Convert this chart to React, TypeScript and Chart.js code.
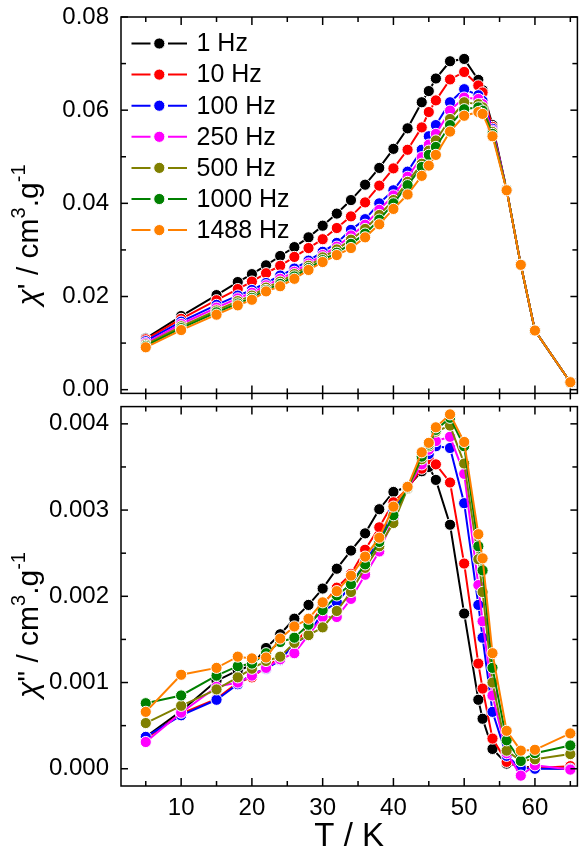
import React, { useEffect, useRef } from 'react';
import { Chart, registerables } from 'chart.js';

Chart.register(...registerables);

// ---------------- data ----------------
const temperatures = [5, 10, 15, 18, 20, 22, 24, 26, 28, 30, 32, 34, 36, 38, 40, 42, 44, 45, 46, 48, 50, 52, 52.6, 54, 56, 58, 60, 65];

const seriesLabels = ['1 Hz', '10 Hz', '100 Hz', '250 Hz', '500 Hz', '1000 Hz', '1488 Hz'];
const seriesColors = ['#000000', '#ff0000', '#0000ff', '#ff00ff', '#808000', '#008000', '#ff8000'];

// chi' (cm3/g)
const chiP_1Hz = [0.0110, 0.0158, 0.0203, 0.0231, 0.0248, 0.0267, 0.0287, 0.0306, 0.0327, 0.0352, 0.0378, 0.0407, 0.0440, 0.0476, 0.0517, 0.0561, 0.0617, 0.0641, 0.0668, 0.0705, 0.0710, 0.0665, 0.0643, 0.0568, 0.0429, 0.0268, 0.0127, 0.0016];
const chiP_10Hz = [0.0108, 0.0152, 0.0192, 0.0216, 0.0232, 0.0250, 0.0266, 0.0285, 0.0304, 0.0323, 0.0347, 0.0372, 0.0402, 0.0438, 0.0475, 0.0515, 0.0563, 0.0596, 0.0621, 0.0666, 0.0682, 0.0653, 0.0638, 0.0564, 0.0429, 0.0268, 0.0127, 0.0016];
const chiP_100Hz = [0.0104, 0.0146, 0.0182, 0.0202, 0.0214, 0.0229, 0.0245, 0.0260, 0.0277, 0.0296, 0.0315, 0.0343, 0.0366, 0.0400, 0.0428, 0.0468, 0.0515, 0.0544, 0.0568, 0.0617, 0.0645, 0.0632, 0.0620, 0.0560, 0.0429, 0.0268, 0.0127, 0.0016];
const chiP_250Hz = [0.0100, 0.0141, 0.0176, 0.0196, 0.0208, 0.0224, 0.0238, 0.0253, 0.0271, 0.0289, 0.0307, 0.0331, 0.0354, 0.0386, 0.0417, 0.0457, 0.0499, 0.0526, 0.0549, 0.0599, 0.0627, 0.0624, 0.0613, 0.0556, 0.0429, 0.0268, 0.0127, 0.0016];
const chiP_500Hz = [0.0097, 0.0136, 0.0170, 0.0190, 0.0202, 0.0219, 0.0232, 0.0248, 0.0266, 0.0284, 0.0301, 0.0322, 0.0345, 0.0375, 0.0407, 0.0446, 0.0485, 0.0513, 0.0535, 0.0581, 0.0617, 0.0613, 0.0606, 0.0553, 0.0429, 0.0268, 0.0127, 0.0016];
const chiP_1000Hz = [0.0094, 0.0132, 0.0166, 0.0185, 0.0197, 0.0214, 0.0227, 0.0243, 0.0261, 0.0278, 0.0294, 0.0313, 0.0335, 0.0365, 0.0400, 0.0439, 0.0478, 0.0504, 0.0521, 0.0568, 0.0602, 0.0606, 0.0599, 0.0549, 0.0429, 0.0268, 0.0127, 0.0016];
const chiP_1488Hz = [0.0091, 0.0128, 0.0161, 0.0181, 0.0193, 0.0211, 0.0222, 0.0238, 0.0257, 0.0274, 0.0289, 0.0304, 0.0327, 0.0355, 0.0388, 0.0419, 0.0459, 0.0481, 0.0504, 0.0554, 0.0588, 0.0596, 0.0592, 0.0544, 0.0428, 0.0268, 0.0127, 0.0016];

// chi'' (cm3/g)
const chiPP_1Hz = [0.00037, 0.00067, 0.00102, 0.00114, 0.00120, 0.00140, 0.00156, 0.00174, 0.00190, 0.00209, 0.00232, 0.00253, 0.00273, 0.00301, 0.00321, 0.00327, 0.00345, 0.00350, 0.00335, 0.00283, 0.00180, 0.00080, 0.00058, 0.00023, 0.00006, 0.00003, 0.00001, 0.00000];
const chiPP_10Hz = [0.00035, 0.00064, 0.00081, 0.00100, 0.00106, 0.00118, 0.00129, 0.00145, 0.00163, 0.00190, 0.00210, 0.00226, 0.00254, 0.00280, 0.00309, 0.00325, 0.00348, 0.00359, 0.00353, 0.00332, 0.00238, 0.00122, 0.00093, 0.00035, 0.00008, 0.00002, 0.00001, 0.00003];
const chiPP_100Hz = [0.00037, 0.00062, 0.00080, 0.00098, 0.00110, 0.00116, 0.00126, 0.00145, 0.00155, 0.00182, 0.00193, 0.00212, 0.00240, 0.00265, 0.00300, 0.00325, 0.00355, 0.00365, 0.00374, 0.00372, 0.00308, 0.00190, 0.00152, 0.00066, 0.00015, 0.00001, 0.00000, 0.00000];
const chiPP_250Hz = [0.00031, 0.00065, 0.00095, 0.00100, 0.00108, 0.00117, 0.00127, 0.00134, 0.00155, 0.00176, 0.00176, 0.00197, 0.00225, 0.00252, 0.00290, 0.00325, 0.00353, 0.00370, 0.00380, 0.00385, 0.00342, 0.00213, 0.00171, 0.00085, 0.00018, -0.00008, 0.00004, -0.00001];
const chiPP_500Hz = [0.00053, 0.00073, 0.00092, 0.00106, 0.00116, 0.00125, 0.00130, 0.00146, 0.00155, 0.00164, 0.00183, 0.00205, 0.00233, 0.00258, 0.00285, 0.00325, 0.00359, 0.00374, 0.00391, 0.00398, 0.00354, 0.00243, 0.00205, 0.00100, 0.00021, 0.00009, 0.00011, 0.00017];
const chiPP_1000Hz = [0.00076, 0.00085, 0.00108, 0.00119, 0.00122, 0.00134, 0.00147, 0.00152, 0.00167, 0.00184, 0.00201, 0.00214, 0.00237, 0.00263, 0.00294, 0.00326, 0.00362, 0.00376, 0.00393, 0.00407, 0.00374, 0.00258, 0.00230, 0.00117, 0.00033, 0.00009, 0.00018, 0.00027];
const chiPP_1488Hz = [0.00066, 0.00109, 0.00117, 0.00130, 0.00128, 0.00129, 0.00151, 0.00165, 0.00174, 0.00193, 0.00206, 0.00224, 0.00246, 0.00268, 0.00304, 0.00327, 0.00367, 0.00378, 0.00396, 0.00411, 0.00379, 0.00272, 0.00244, 0.00134, 0.00044, 0.00021, 0.00022, 0.00041];

// axes
const xMin = 1.5;
const xMax = 66;
const xMajorTicks = [10, 20, 30, 40, 50, 60];
const xMinorTicks = [5, 15, 25, 35, 45, 55, 65];

const topYMin = -0.0008;
const topYMax = 0.08;
const topYMajor = [0, 0.02, 0.04, 0.06, 0.08];
const topYMinor = [0.01, 0.03, 0.05, 0.07];

const botYMin = -0.0002;
const botYMax = 0.0042;
const botYMajor = [0, 0.001, 0.002, 0.003, 0.004];
const botYMinor = [0.0005, 0.0015, 0.0025, 0.0035];

const xTitle = 'T / K';

// ---------------- styling ----------------
const FONT = '"Liberation Sans", Arial, Helvetica, sans-serif';

function makeDatasets(series: number[][]) {
  return series.map((vals, i) => ({
    label: seriesLabels[i],
    data: temperatures.map((t, j) => ({ x: t, y: vals[j] })),
    borderColor: seriesColors[i],
    backgroundColor: seriesColors[i],
    pointBackgroundColor: seriesColors[i],
    pointBorderColor: '#ffffff',
    pointBorderWidth: 1,
    pointRadius: 5.6,
    pointHoverRadius: 5.6,
    borderWidth: 2,
    tension: 0,
    order: series.length - 1 - i,
  }));
}

function framePlugin(yMajor: number[], yMinor: number[], isTop: boolean) {
  return {
    id: 'frame' + (isTop ? 'Top' : 'Bot'),
    afterDraw(chart: any) {
      const { ctx, chartArea, scales } = chart;
      const { left, right, top, bottom } = chartArea;
      const xs = scales.x;
      const ys = scales.y;
      ctx.save();
      ctx.strokeStyle = '#000';
      ctx.lineWidth = 1.5;
      ctx.strokeRect(left, top, right - left, bottom - top);
      const seg = (x1: number, y1: number, x2: number, y2: number) => {
        ctx.beginPath();
        ctx.moveTo(x1, y1);
        ctx.lineTo(x2, y2);
        ctx.stroke();
      };
      const xt = (v: number, len: number) => {
        const px = xs.getPixelForValue(v);
        if (isTop) {
          seg(px, bottom + 6, px, bottom - len);
        } else {
          seg(px, bottom, px, bottom - len);
        }
        seg(px, top, px, top + len);
      };
      xMajorTicks.forEach((v) => xt(v, 8));
      xMinorTicks.forEach((v) => xt(v, 5));
      const yt = (v: number, len: number) => {
        const py = ys.getPixelForValue(v);
        seg(left, py, left + len, py);
        seg(right, py, right - len, py);
      };
      yMajor.forEach((v) => yt(v, 7));
      yMinor.forEach((v) => yt(v, 5));
      ctx.restore();
    },
  };
}

function drawYTitle(ctx: CanvasRenderingContext2D, cx: number, cy: number, primes: string) {
  const size = 30;
  const parts = [
    { t: '\u03c7', italic: true, sup: false },
    { t: primes + ' / cm', italic: false, sup: false },
    { t: '3', italic: false, sup: true },
    { t: '.g', italic: false, sup: false },
    { t: '-1', italic: false, sup: true },
  ];
  const fontFor = (p: any) => `${p.italic ? 'italic ' : ''}${p.sup ? Math.round(size * 0.65) : size}px ${FONT}`;
  ctx.save();
  const widths = parts.map((p) => {
    ctx.font = fontFor(p);
    return ctx.measureText(p.t).width;
  });
  const total = widths.reduce((a, b) => a + b, 0);
  ctx.translate(cx, cy);
  ctx.rotate(-Math.PI / 2);
  ctx.fillStyle = '#000';
  ctx.textBaseline = 'alphabetic';
  let x = -total / 2;
  parts.forEach((p, i) => {
    ctx.font = fontFor(p);
    ctx.fillText(p.t, x, p.sup ? -size * 0.45 : 0);
    x += widths[i];
  });
  ctx.restore();
}

function yTitlePlugin(cx: number, cy: number, primes: string) {
  return {
    id: 'ytitle',
    afterDraw(chart: any) {
      drawYTitle(chart.ctx, cx, cy, primes);
    },
  };
}

const legendPlugin = {
  id: 'customLegend',
  afterDraw(chart: any) {
    const ctx = chart.ctx as CanvasRenderingContext2D;
    ctx.save();
    seriesLabels.forEach((lab, i) => {
      const y = 43.5 + i * 31.1;
      ctx.strokeStyle = seriesColors[i];
      ctx.lineWidth = 2;
      ctx.beginPath();
      ctx.moveTo(131.5, y);
      ctx.lineTo(150.5, y);
      ctx.moveTo(168, y);
      ctx.lineTo(187, y);
      ctx.stroke();
      ctx.beginPath();
      ctx.arc(159.3, y, 5.6, 0, Math.PI * 2);
      ctx.fillStyle = seriesColors[i];
      ctx.fill();
      ctx.lineWidth = 1;
      ctx.strokeStyle = '#fff';
      ctx.stroke();
      ctx.fillStyle = '#000';
      ctx.font = `25px ${FONT}`;
      ctx.textBaseline = 'middle';
      ctx.textAlign = 'left';
      ctx.fillText(lab, 196.5, y + 1);
    });
    ctx.restore();
  },
};

const tickFont = { family: FONT, size: 24 };

export default function App() {
  const topRef = useRef<HTMLCanvasElement | null>(null);
  const botRef = useRef<HTMLCanvasElement | null>(null);

  useEffect(() => {
    if (!topRef.current || !botRef.current) return;

    const topChart = new Chart(topRef.current, {
      type: 'line',
      data: {
        datasets: makeDatasets([chiP_1Hz, chiP_10Hz, chiP_100Hz, chiP_250Hz, chiP_500Hz, chiP_1000Hz, chiP_1488Hz]) as any,
      },
      options: {
        animation: false,
        responsive: false,
        devicePixelRatio: 1,
        layout: { padding: { top: 17, right: 2, bottom: 4, left: 0 } },
        plugins: { legend: { display: false }, tooltip: { enabled: false } },
        scales: {
          x: {
            type: 'linear',
            display: false,
            min: xMin,
            max: xMax,
          },
          y: {
            type: 'linear',
            min: topYMin,
            max: topYMax,
            afterBuildTicks: (s: any) => {
              s.ticks = topYMajor.map((v) => ({ value: v }));
            },
            ticks: {
              font: tickFont,
              color: '#000',
              padding: 12,
              callback: (v: any) => Number(v).toFixed(2),
            },
            grid: { display: false, drawTicks: false, tickLength: 0 },
            border: { display: false },
            afterFit: (s: any) => {
              s.width = 121;
              s.paddingTop = 0;
              s.paddingBottom = 0;
            },
          },
        },
      },
      plugins: [framePlugin(topYMajor, topYMinor, true), legendPlugin, yTitlePlugin(38, 235, "'")],
    } as any);

    const botChart = new Chart(botRef.current, {
      type: 'line',
      data: {
        datasets: makeDatasets([chiPP_1Hz, chiPP_10Hz, chiPP_100Hz, chiPP_250Hz, chiPP_500Hz, chiPP_1000Hz, chiPP_1488Hz]) as any,
      },
      options: {
        animation: false,
        responsive: false,
        devicePixelRatio: 1,
        layout: { padding: { top: 2, right: 2, bottom: 0, left: 0 } },
        plugins: { legend: { display: false }, tooltip: { enabled: false } },
        scales: {
          x: {
            type: 'linear',
            min: xMin,
            max: xMax,
            afterBuildTicks: (s: any) => {
              s.ticks = xMajorTicks.map((v) => ({ value: v }));
            },
            ticks: {
              font: tickFont,
              color: '#000',
              padding: 8,
              maxRotation: 0,
              autoSkip: false,
              callback: (v: any) => String(v),
            },
            grid: { display: false, drawTicks: false, tickLength: 0 },
            border: { display: false },
            title: {
              display: true,
              text: xTitle,
              color: '#000',
              font: { family: FONT, size: 33, lineHeight: 1 },
              padding: { top: 0, bottom: 1 },
            },
            afterFit: (s: any) => {
              s.height = 68;
              s.paddingLeft = 0;
              s.paddingRight = 0;
            },
          },
          y: {
            type: 'linear',
            min: botYMin,
            max: botYMax,
            afterBuildTicks: (s: any) => {
              s.ticks = botYMajor.map((v) => ({ value: v }));
            },
            ticks: {
              font: tickFont,
              color: '#000',
              padding: 12,
              callback: (v: any) => Number(v).toFixed(3),
            },
            grid: { display: false, drawTicks: false, tickLength: 0 },
            border: { display: false },
            afterFit: (s: any) => {
              s.width = 121;
              s.paddingTop = 0;
              s.paddingBottom = 0;
            },
          },
        },
      },
      plugins: [framePlugin(botYMajor, botYMinor, false), yTitlePlugin(38, 225, '"')],
    } as any);

    return () => {
      topChart.destroy();
      botChart.destroy();
    };
  }, []);

  return (
    <div style={{ position: 'absolute', left: 0, top: 0, width: 584, height: 854, background: '#ffffff' }}>
      <canvas
        ref={botRef}
        width={584}
        height={454}
        style={{ position: 'absolute', left: 0, top: 400, width: 584, height: 454 }}
      />
      <canvas
        ref={topRef}
        width={584}
        height={400}
        style={{ position: 'absolute', left: 0, top: 0, width: 584, height: 400 }}
      />
    </div>
  );
}
